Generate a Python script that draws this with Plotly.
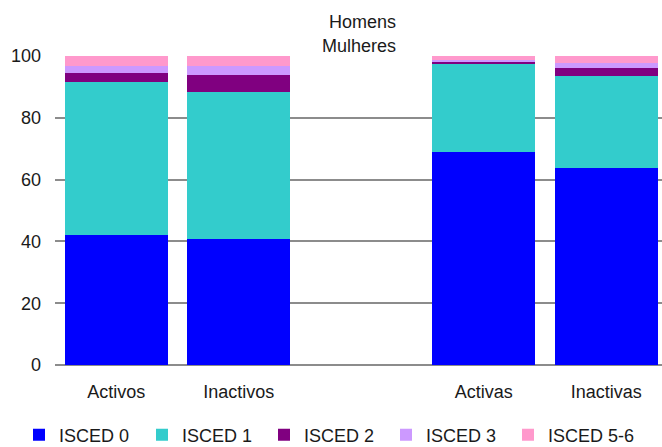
import plotly.graph_objects as go

# Categories: men (Activos, Inactivos), blank spacer, women (Activas, Inactivas)
categories = ["Activos", "Inactivos", "", "Activas", "Inactivas"]
positions = [0, 1, 2, 3, 4]

series_names = ["ISCED 0", "ISCED 1", "ISCED 2", "ISCED 3", "ISCED 5-6"]
isced0 = [42.1, 40.8, None, 68.9, 63.8]
isced1 = [49.5, 47.5, None, 28.5, 29.7]
isced2 = [2.9, 5.6, None, 0.7, 2.6]
isced3 = [2.3, 2.9, None, 0.5, 1.6]
isced56 = [3.2, 3.2, None, 1.4, 2.3]

colors = ["#0000ff", "#33cccc", "#800080", "#cc99ff", "#ff99cc"]
series_values = [isced0, isced1, isced2, isced3, isced56]

y_ticks = [0, 20, 40, 60, 80, 100]

font_family = "Liberation Sans, Arial, sans-serif"
text_color = "#1a1a1a"

# plot area geometry in pixels (used to place legends/annotations)
PLOT_L, PLOT_W = 55, 607
PLOT_B, PLOT_H = 365, 309

legend_ids = ["legend", "legend2", "legend3", "legend4", "legend5"]
legend_text_x = [59, 182, 304, 426, 548]

fig = go.Figure()
for name, vals, col, lid in zip(series_names, series_values, colors, legend_ids):
    fig.add_trace(go.Bar(
        x=positions, y=vals, name=name,
        marker=dict(color=col, line=dict(width=0)),
        legend=lid,
    ))

legend_layout = {}
for lid, tx in zip(legend_ids, legend_text_x):
    legend_layout[lid] = dict(
        orientation="h",
        xref="container", yref="container",
        x=(tx - 40) / 662, xanchor="left",
        y=(447 - 435) / 447, yanchor="middle",
        font=dict(size=18, color=text_color, family=font_family),
        bgcolor="rgba(0,0,0,0)",
        itemclick=False, itemdoubleclick=False,
    )

fig.update_layout(
    width=662, height=447,
    margin=dict(l=PLOT_L, r=0, t=56, b=82, autoexpand=False),
    barmode="stack",
    bargap=0.16,
    paper_bgcolor="white",
    plot_bgcolor="white",
    font=dict(family=font_family, size=18, color=text_color),
    showlegend=True,
    xaxis=dict(
        range=[-0.5, 4.455],
        tickmode="array",
        tickvals=positions,
        ticktext=categories,
        showgrid=False,
        showline=False,
        zeroline=False,
        ticks="",
        ticklabelstandoff=14,
        tickfont=dict(size=18, color=text_color),
        fixedrange=True,
    ),
    yaxis=dict(
        range=[0, 100],
        tickmode="array",
        tickvals=y_ticks,
        showgrid=True,
        gridcolor="#8c8c8c",
        gridwidth=2,
        zeroline=True,
        zerolinecolor="#8c8c8c",
        zerolinewidth=2,
        showline=False,
        ticks="",
        ticklabelstandoff=13,
        tickfont=dict(size=18, color=text_color),
        fixedrange=True,
    ),
    annotations=[
        dict(text="Homens", xref="paper", yref="paper",
             x=(398 - PLOT_L) / PLOT_W, y=(PLOT_B - 22) / PLOT_H,
             xanchor="right", yanchor="middle", showarrow=False,
             font=dict(size=18, color=text_color)),
        dict(text="Mulheres", xref="paper", yref="paper",
             x=(398 - PLOT_L) / PLOT_W, y=(PLOT_B - 46) / PLOT_H,
             xanchor="right", yanchor="middle", showarrow=False,
             font=dict(size=18, color=text_color)),
    ],
    **legend_layout,
)

fig.write_html("out.html", config={"displayModeBar": False})
